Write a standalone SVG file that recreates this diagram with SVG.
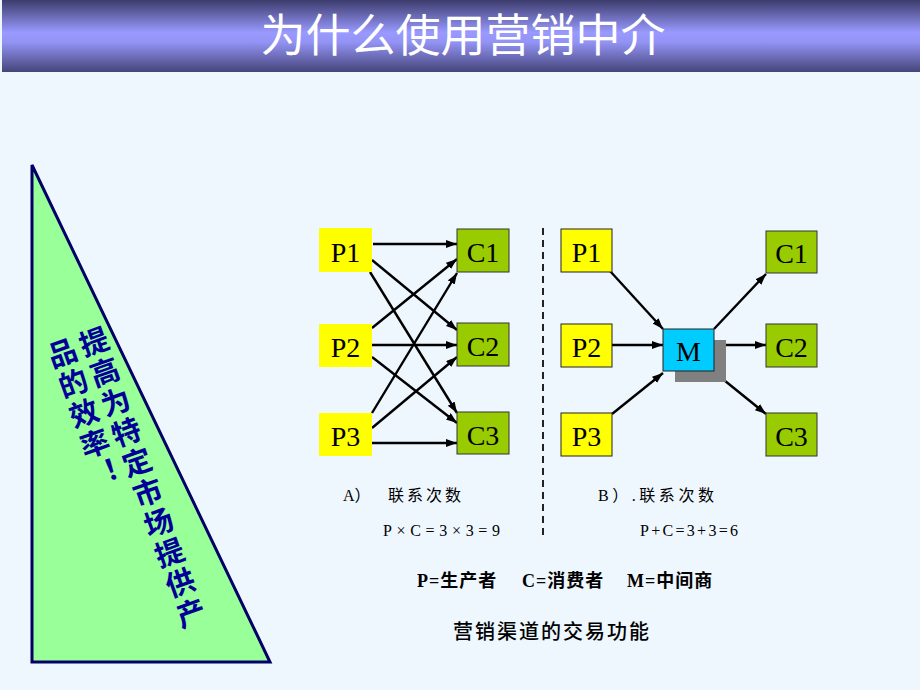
<svg xmlns="http://www.w3.org/2000/svg" width="920" height="690" viewBox="0 0 920 690">
<defs>
<linearGradient id="tg" x1="0" y1="0" x2="0" y2="1">
<stop offset="0" stop-color="#3c3c6c"/>
<stop offset="0.45" stop-color="#9999ff"/>
<stop offset="0.58" stop-color="#9494f6"/>
<stop offset="1" stop-color="#45457a"/>
</linearGradient>
<marker id="ah" markerUnits="userSpaceOnUse" markerWidth="12" markerHeight="10" refX="11" refY="4" orient="auto">
<path d="M0,0 L11,4 L0,8 z" fill="#000"/>
</marker>
</defs>
<style>
.p{fill:#ffff00}
.pb{fill:#ffff00;stroke:#222;stroke-width:1}
.c{fill:#99cc00;stroke:#333;stroke-width:1}
.lbl{font-family:"Liberation Serif","Times New Roman",serif;font-size:28px;fill:#000;text-anchor:middle}
.cn line{stroke:#000;stroke-width:2.4;marker-end:url(#ah)}
.cap{font-family:"Liberation Serif","Noto Sans CJK SC",serif;font-size:16px;fill:#000}
.tri{font-family:"Noto Sans CJK SC",sans-serif;font-size:29px;font-weight:bold;fill:#000099;writing-mode:vertical-rl;letter-spacing:3px}
</style>
<rect x="0" y="0" width="920" height="690" fill="#eef6fe"/>
<g id="title">
<rect x="2" y="0" width="918" height="72" fill="url(#tg)"/>
<text x="463" y="52" font-family="Noto Sans CJK SC, sans-serif" font-size="45" fill="#fff" text-anchor="middle">为什么使用营销中介</text>
</g>
<g id="triangle">
<polygon points="32,165 32,662 270,662" fill="#99ff99" stroke="#000066" stroke-width="3" stroke-linejoin="miter"/>
<g transform="translate(94,342) rotate(-19.7)">
<text class="tri" x="0" y="-15">提高为特定市场提供产</text>
<text class="tri" x="-33.5" y="-15">品的效率！</text>
</g>
</g>
<g id="connectors">
<g class="cn">
<line x1="373" y1="244" x2="457" y2="244"/>
<line x1="372" y1="260" x2="457" y2="330"/>
<line x1="370" y1="272" x2="457" y2="413"/>
<line x1="372" y1="328" x2="457" y2="259"/>
<line x1="372" y1="345" x2="457" y2="345"/>
<line x1="372" y1="357" x2="457" y2="423"/>
<line x1="372" y1="413" x2="457" y2="273"/>
<line x1="372" y1="428" x2="457" y2="357"/>
<line x1="372" y1="443" x2="457" y2="443"/>
<line x1="610" y1="271" x2="663" y2="329"/>
<line x1="612" y1="345" x2="663" y2="345"/>
<line x1="612" y1="414" x2="663" y2="373"/>
<line x1="714" y1="329" x2="766" y2="274"/>
<line x1="714" y1="345" x2="766" y2="345"/>
<line x1="714" y1="372" x2="766" y2="414"/>
</g>
<line x1="543" y1="228" x2="543" y2="540" stroke="#222" stroke-width="2" stroke-dasharray="7,5"/>
</g>
<g id="A-P1"><rect class="p" x="319" y="228" width="53" height="44"/><text class="lbl" x="345.5" y="262">P1</text></g>
<g id="A-P2"><rect class="p" x="319" y="324" width="53" height="43"/><text class="lbl" x="345.5" y="357">P2</text></g>
<g id="A-P3"><rect class="p" x="319" y="413" width="53" height="43"/><text class="lbl" x="345.5" y="446">P3</text></g>
<g id="A-C1"><rect class="c" x="457" y="229" width="52" height="43"/><text class="lbl" x="483" y="262">C1</text></g>
<g id="A-C2"><rect class="c" x="457" y="323" width="52" height="43"/><text class="lbl" x="483" y="356">C2</text></g>
<g id="A-C3"><rect class="c" x="457" y="412" width="52" height="42"/><text class="lbl" x="483" y="445">C3</text></g>
<g id="B-P1"><rect class="pb" x="561" y="229" width="51" height="43"/><text class="lbl" x="586.5" y="262">P1</text></g>
<g id="B-P2"><rect class="pb" x="561" y="324" width="51" height="43"/><text class="lbl" x="586.5" y="357">P2</text></g>
<g id="B-P3"><rect class="pb" x="561" y="413" width="51" height="43"/><text class="lbl" x="586.5" y="446">P3</text></g>
<g id="B-M">
<rect x="675" y="340" width="51" height="42" fill="#808080"/>
<rect x="663" y="329" width="51" height="42" fill="#00ccff" stroke="#222" stroke-width="1"/>
<text class="lbl" x="688.5" y="361">M</text>
</g>
<g id="B-C1"><rect class="c" x="766" y="231" width="51" height="42" /><text class="lbl" x="791.5" y="263">C1</text></g>
<g id="B-C2"><rect class="c" x="766" y="324" width="51" height="43"/><text class="lbl" x="791.5" y="357">C2</text></g>
<g id="B-C3"><rect class="c" x="766" y="413" width="51" height="43"/><text class="lbl" x="791.5" y="446">C3</text></g>
<g id="captions">
<text class="cap" x="343" y="501" font-size="17">A）<tspan x="388" letter-spacing="3">联系次数</tspan></text>
<text class="cap" x="383" y="536" textLength="117" lengthAdjust="spacing">P×C=3×3=9</text>
<text class="cap" x="598" y="501" font-size="17" letter-spacing="3" textLength="119" lengthAdjust="spacing">B）.联系次数</text>
<text class="cap" x="640" y="536" textLength="98" lengthAdjust="spacing">P+C=3+3=6</text>
<text y="587" font-family="Liberation Serif, Noto Sans CJK SC, serif" font-size="18" font-weight="bold" fill="#000" letter-spacing="1"><tspan x="417">P=生产者</tspan><tspan x="522">C=消费者</tspan><tspan x="627">M=中间商</tspan></text>
<text x="552" y="639" font-family="Noto Sans CJK SC, sans-serif" font-size="20" font-weight="500" fill="#000" text-anchor="middle" letter-spacing="2">营销渠道的交易功能</text>
</g>
</svg>
